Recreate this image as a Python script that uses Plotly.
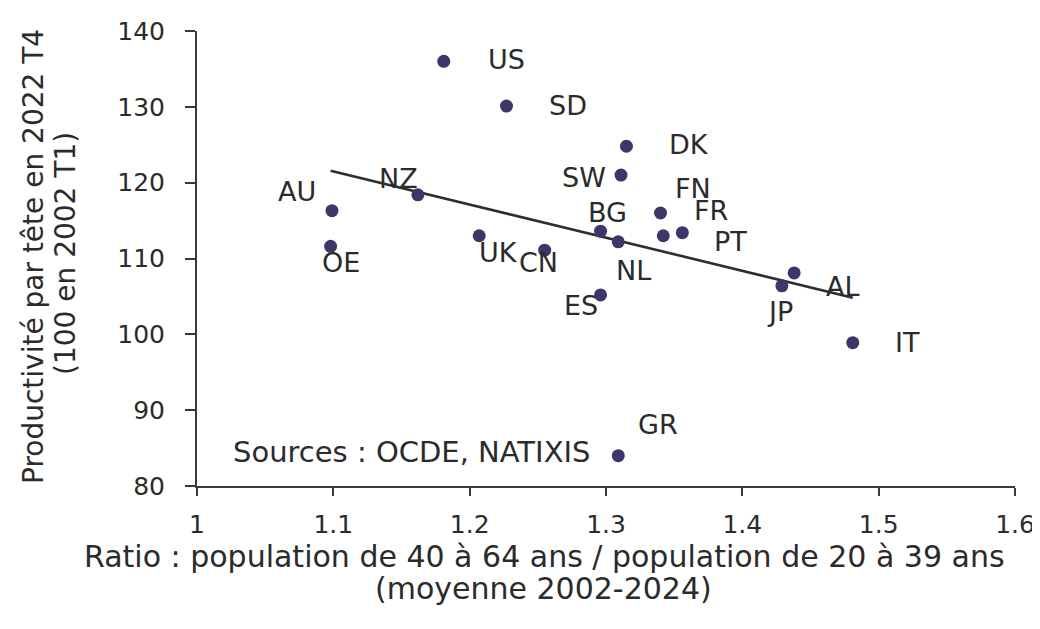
import numpy as np
import plotly.graph_objects as go

# ---- data ----
countries = ["US", "SD", "DK", "SW", "FN", "FR", "PT", "BG", "NL", "ES",
             "JP", "AL", "IT", "GR", "AU", "OE", "NZ", "UK", "CN"]
ratio = [1.181, 1.227, 1.315, 1.311, 1.340, 1.356, 1.342, 1.296, 1.309, 1.296,
         1.429, 1.438, 1.481, 1.309, 1.099, 1.098, 1.162, 1.207, 1.255]
productivity = [136.0, 130.1, 124.8, 121.0, 116.0, 113.4, 113.0, 113.6, 112.2, 105.2,
                106.4, 108.1, 98.9, 84.0, 116.3, 111.6, 118.4, 113.0, 111.1]
x_ticks = [1.0, 1.1, 1.2, 1.3, 1.4, 1.5, 1.6]
x_tick_labels = ["1", "1.1", "1.2", "1.3", "1.4", "1.5", "1.6"]
y_ticks = [80, 90, 100, 110, 120, 130, 140]

# label placement (pixel offsets from each point: dx right, dy up)
label_offsets = {
    "US": (63, 2), "SD": (62, 1), "DK": (63, 2), "SW": (-37, -2),
    "FN": (32, 25), "FR": (29, 22), "PT": (67, -6), "BG": (7, 19),
    "NL": (15, -29), "ES": (-20, -11), "JP": (-2, -26), "AL": (49, -14),
    "IT": (55, 0), "GR": (40, 31), "AU": (-35, 19), "OE": (10, -16),
    "NZ": (-19, 16), "UK": (19, -17), "CN": (-6, -12),
}

FONT = "DejaVu Sans"
TXT = "#2b2b2b"
AX = "#3a3a3a"
OFF = 8                      # page body margin
W, H = 1040 - OFF, 629 - OFF
L, R, T, B = 197 - OFF, 25, 31 - OFF, 143
PW, PH = W - L - R, H - T - B


def px(xs):
    # screen pixel x -> paper
    return (xs - OFF - L) / PW


def py(ys):
    # screen pixel y -> paper
    return (H - B - (ys - OFF)) / PH


# regression line from data
slope, intercept = np.polyfit(ratio, productivity, 1)
fx = np.array([min(ratio), max(ratio)])
fy = slope * fx + intercept

fig = go.Figure()
fig.add_trace(go.Scatter(x=fx, y=fy, mode="lines",
                         line=dict(color="#2e2e2e", width=2.6),
                         hoverinfo="skip", showlegend=False))
fig.add_trace(go.Scatter(x=ratio, y=productivity, mode="markers",
                         marker=dict(size=13, color="#3c3768",
                                     line=dict(width=0)),
                         text=countries, showlegend=False))

annotations = []
for c, xv, yv in zip(countries, ratio, productivity):
    dx, dy = label_offsets[c]
    annotations.append(dict(x=xv, y=yv, xref="x", yref="y", text=c,
                            showarrow=False, xshift=dx, yshift=dy,
                            xanchor="center", yanchor="middle",
                            font=dict(family=FONT, size=27, color=TXT)))

annotations += [
    dict(x=px(411), y=py(452), xref="paper", yref="paper",
         text="Sources : OCDE, NATIXIS", showarrow=False,
         xanchor="center", yanchor="middle",
         font=dict(family=FONT, size=29, color=TXT)),
    dict(x=px(544), y=py(556), xref="paper", yref="paper",
         text="Ratio : population de 40 à 64 ans / population de 20 à 39 ans",
         showarrow=False, xanchor="center", yanchor="middle",
         font=dict(family=FONT, size=30, color=TXT)),
    dict(x=px(543), y=py(588), xref="paper", yref="paper",
         text="(moyenne 2002-2024)",
         showarrow=False, xanchor="center", yanchor="middle",
         font=dict(family=FONT, size=30, color=TXT)),
    dict(x=px(33), y=py(257), xref="paper", yref="paper",
         text="Productivité par tête en 2022 T4", textangle=-90,
         showarrow=False, xanchor="center", yanchor="middle",
         font=dict(family=FONT, size=28, color=TXT)),
    dict(x=px(65), y=py(254), xref="paper", yref="paper",
         text="(100 en 2002 T1)", textangle=-90,
         showarrow=False, xanchor="center", yanchor="middle",
         font=dict(family=FONT, size=28, color=TXT)),
]

fig.update_layout(
    width=W, height=H,
    margin=dict(l=L, r=R, t=T, b=B, pad=0, autoexpand=False),
    paper_bgcolor="white", plot_bgcolor="white",
    showlegend=False,
    annotations=annotations,
    xaxis=dict(range=[1.0, 1.6], tickvals=x_ticks, ticktext=x_tick_labels,
               automargin=False,
               showline=True, linecolor=AX, linewidth=2,
               ticks="outside", ticklen=8, tickwidth=1.5, tickcolor=AX,
               showgrid=False, zeroline=False, ticklabelstandoff=7,
               tickfont=dict(family=FONT, size=25, color=TXT)),
    yaxis=dict(range=[80, 140], tickvals=y_ticks,
               automargin=False,
               showline=True, linecolor=AX, linewidth=2,
               ticks="outside", ticklen=10, tickwidth=1.5, tickcolor=AX,
               showgrid=False, zeroline=False, ticklabelstandoff=15,
               tickfont=dict(family=FONT, size=25, color=TXT)),
)

fig.write_html("out.html")
